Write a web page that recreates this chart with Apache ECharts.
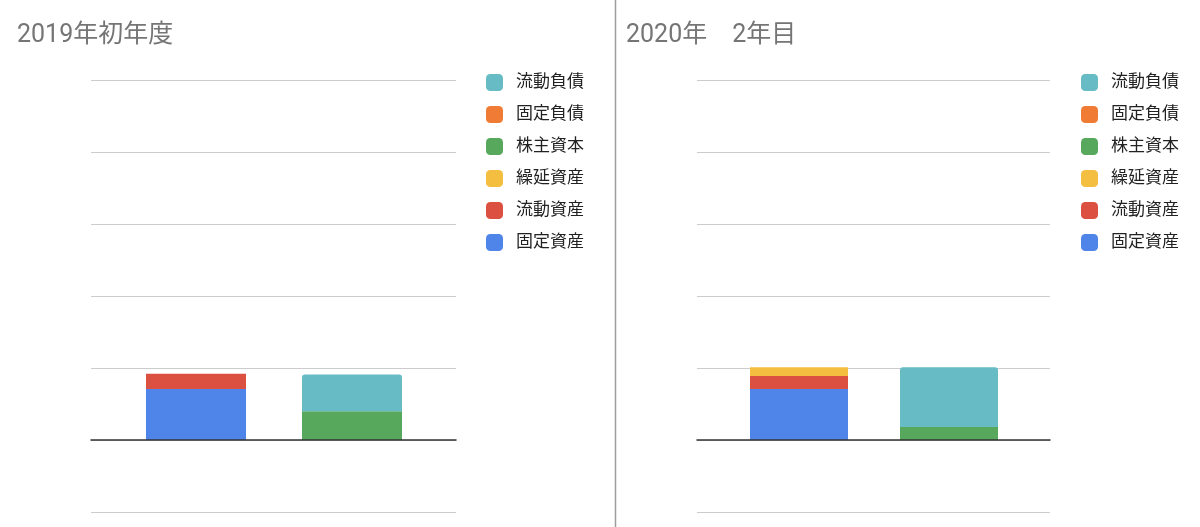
<!DOCTYPE html>
<html><head><meta charset="utf-8">
<script src="https://cdn.jsdelivr.net/npm/echarts@6/dist/echarts.min.js"></script>
<style>html,body{margin:0;padding:0;background:#fff}#c{width:1200px;height:527px}</style>
</head><body><div id="c"></div>
<script>
const categories = ['資産', '負債・純資産'];
const seriesNames = ['固定資産', '流動資産', '繰延資産', '株主資本', '固定負債', '流動負債'];
const legendOrder = ['流動負債', '固定負債', '株主資本', '繰延資産', '流動資産', '固定資産'];
const titles = ['2019年初年度', '2020年　2年目'];
// values per series: [資産 bar, 負債・純資産 bar]
const y2019 = {
  '固定資産': [0.71, 0],
  '流動資産': [0.21, 0],
  '繰延資産': [0, 0],
  '株主資本': [0, 0.40],
  '固定負債': [0, 0],
  '流動負債': [0, 0.51]
};
const y2020 = {
  '固定資産': [0.71, 0],
  '流動資産': [0.18, 0],
  '繰延資産': [0.12, 0],
  '株主資本': [0, 0.18],
  '固定負債': [0, 0],
  '流動負債': [0, 0.83]
};
const yMin = -1, yMax = 5, yInterval = 1;

const colors = {
  '固定資産': '#4f84e8',
  '流動資産': '#db5040',
  '繰延資産': '#f4be41',
  '株主資本': '#57a75c',
  '固定負債': '#f07b35',
  '流動負債': '#66bbc4'
};
const font = 'Roboto, "Noto Sans CJK JP", sans-serif';
const chart = echarts.init(document.getElementById('c'));

const panels = [
  {data: y2019, titleLeft: 17, bgGrid: {left: 91, right: 744}, barGrid: {left: 118, right: 770}, barWidth: 100, legendLeft: 481},
  {data: y2020, titleLeft: 626, bgGrid: {left: 697, right: 150}, barGrid: {left: 724, right: 176}, barWidth: 98, legendLeft: 1076}
];

const grid = [], xAxis = [], yAxis = [], series = [], legend = [], title = [];
panels.forEach((p, i) => {
  title.push({text: titles[i], left: p.titleLeft, top: 23, padding: 0,
    textStyle: {fontFamily: font, fontSize: 25, fontWeight: 'normal', color: '#757575'}});
  grid.push({left: p.bgGrid.left, right: p.bgGrid.right, top: 80, bottom: 15});
  grid.push({left: p.barGrid.left, right: p.barGrid.right, top: 80, bottom: 15});
  const gBg = i * 2, gBar = i * 2 + 1;
  xAxis.push({type: 'category', gridIndex: gBg, data: ['', ''], z: 10,
    axisLine: {onZero: true, lineStyle: {color: '#333', width: 1.5}},
    axisTick: {show: false}, axisLabel: {show: false}, splitLine: {show: false}});
  yAxis.push({type: 'value', gridIndex: gBg, min: yMin, max: yMax, interval: yInterval,
    axisLabel: {show: false}, axisLine: {show: false}, axisTick: {show: false},
    splitLine: {lineStyle: {color: '#cccccc', width: 1}}});
  xAxis.push({type: 'category', gridIndex: gBar, data: categories,
    axisLine: {show: false}, axisTick: {show: false}, axisLabel: {show: false}});
  yAxis.push({type: 'value', gridIndex: gBar, min: yMin, max: yMax, interval: yInterval,
    axisLabel: {show: false}, axisLine: {show: false}, axisTick: {show: false}, splitLine: {show: false}});
  seriesNames.forEach(n => {
    series.push({
      name: n, type: 'bar', stack: 'p' + i, xAxisIndex: i * 2 + 1, yAxisIndex: i * 2 + 1,
      barWidth: p.barWidth, data: p.data[n],
      itemStyle: {color: colors[n], borderRadius: n === '流動負債' ? [3, 3, 0, 0] : 0},
      emphasis: {disabled: true}
    });
  });
  legend.push({data: legendOrder, orient: 'vertical', left: p.legendLeft, top: 69,
    itemWidth: 17, itemHeight: 17, itemGap: 15, icon: 'roundRect',
    textStyle: {fontFamily: font, fontSize: 17, color: '#222', padding: [0, 0, 0, 8]}});
});

chart.setOption({
  animation: false,
  title, grid, xAxis, yAxis, series, legend,
  graphic: [{type: 'line', shape: {x1: 615.5, y1: 0, x2: 615.5, y2: 527},
    style: {stroke: '#9e9e9e', lineWidth: 1.5}}]
});
</script></body></html>
